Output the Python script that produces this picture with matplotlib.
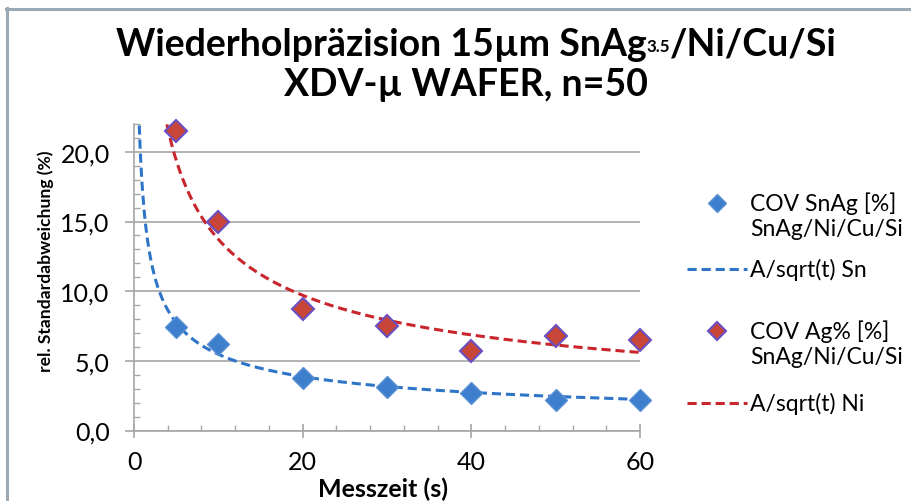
import numpy as np
import matplotlib
matplotlib.use("Agg")
import matplotlib.pyplot as plt
from matplotlib.lines import Line2D
from matplotlib.ticker import MultipleLocator, FuncFormatter

plt.rcParams['font.family'] = ['Lato', 'DejaVu Sans']

# ---- data ----
t_meas = [5, 10, 20, 30, 40, 50, 60]
cov_snag = [7.4, 6.2, 3.8, 3.1, 2.7, 2.2, 2.2]
cov_ag = [21.5, 15.0, 8.7, 7.5, 5.7, 6.8, 6.5]
A_sn = 17.3   # fit constant A/sqrt(t) Sn
A_ni = 43.4   # fit constant A/sqrt(t) Ni
xticks = [0, 20, 40, 60]
yticks = [0, 5, 10, 15, 20]

W, H = 911, 502
fig = plt.figure(figsize=(W / 100, H / 100), dpi=100)
fig.patch.set_facecolor('white')

def fx(px):
    return px / W

def fy(py):
    return 1 - py / H

ax = fig.add_axes([fx(134), fy(431.5), fx(640) - fx(134), fy(125) - fy(431.5)])
ax.set_xlim(0, 60)
ax.set_ylim(0, 22)

grid_c = '#A6A6A6'
for s in ['top', 'right']:
    ax.spines[s].set_visible(False)
for s in ['left', 'bottom']:
    ax.spines[s].set_color(grid_c)
    ax.spines[s].set_linewidth(1.2)

ax.yaxis.grid(True, color=grid_c, linewidth=1.2)
ax.set_axisbelow(True)

ax.set_xticks(xticks)
ax.set_yticks(yticks)
ax.xaxis.set_minor_locator(MultipleLocator(4))
ax.yaxis.set_minor_locator(MultipleLocator(1))
ax.yaxis.set_major_formatter(FuncFormatter(lambda v, p: f"{v:.1f}".replace('.', ',')))
ax.tick_params(axis='y', which='major', direction='out', length=6.5, width=1.2,
               color=grid_c, labelsize=18, labelcolor='black', pad=11)
ax.tick_params(axis='x', which='major', direction='inout', length=10, width=1.2,
               color=grid_c, labelsize=18, labelcolor='black', pad=9)
ax.tick_params(axis='both', which='minor', direction='in', length=4, width=1.0, color=grid_c)

# fit curves
tt = np.linspace(0.3, 60, 600)
ax.plot(tt, A_sn / np.sqrt(tt), linestyle=(0, (3, 1.6)), color='#2E75C8', linewidth=2.2, zorder=3)
ax.plot(tt, A_ni / np.sqrt(tt), linestyle=(0, (3, 1.6)), color='#C8252C', linewidth=2.2, zorder=3)

# data points
blue_fc = '#3D7FCC'
blue_ec = '#5B8FD6'
red_fc = '#C8453A'
red_ec = '#6A4FC0'
ax.plot(t_meas, cov_snag, linestyle='none', marker='D', markersize=11.5,
        markerfacecolor=blue_fc, markeredgecolor=blue_ec, markeredgewidth=1.0, zorder=4, clip_on=False)
ax.plot(t_meas, cov_ag, linestyle='none', marker='D', markersize=11.5,
        markerfacecolor=red_fc, markeredgecolor=red_ec, markeredgewidth=1.5, zorder=4, clip_on=False)

fig.text(fx(383), fy(489), 'Messzeit (s)', fontsize=18, fontweight='bold', ha='center', va='center')
ax.set_ylabel('rel. Standardabweichung (%)', fontsize=12.6, fontweight='bold')
ax.yaxis.set_label_coords(-0.158, 0.556)

# frame
frame_c = '#9AA9B3'
fig.add_artist(Line2D([fx(6.5), fx(6.5)], [fy(9), 0], transform=fig.transFigure, color=frame_c, linewidth=2.2))
fig.add_artist(Line2D([fx(5.5), 1], [fy(10), fy(10)], transform=fig.transFigure, color=frame_c, linewidth=2.2))

# title (with subscript)
renderer = fig.canvas.get_renderer()
tsize = 27
parts = [('Wiederholpräzision 15µm SnAg', tsize, 0), ('3.5', tsize * 0.45, 4), ('/Ni/Cu/Si', tsize, 0)]
objs = []
for s, sz, dy in parts:
    objs.append(fig.text(0, fy(42 + dy), s, fontsize=sz, fontweight='bold', va='center_baseline', ha='left'))
widths = [o.get_window_extent(renderer).width for o in objs]
total = sum(widths)
x0 = 476.5 - total / 2
for o, w in zip(objs, widths):
    o.set_x(fx(x0))
    x0 += w
fig.text(fx(466), fy(82), 'XDV-µ WAFER, n=50', fontsize=tsize, fontweight='bold', ha='center', va='center_baseline')

# legend (manual)
lsize = 16.5
tx = fx(750)
fig.add_artist(Line2D([fx(717)], [fy(204)], transform=fig.transFigure, marker='D', markersize=9,
                      markerfacecolor=blue_fc, markeredgecolor=blue_ec, linestyle='none'))
fig.text(tx, fy(204), 'COV SnAg [%]', fontsize=lsize, va='center')
fig.text(tx, fy(230), 'SnAg/Ni/Cu/Si', fontsize=lsize, va='center')
fig.add_artist(Line2D([fx(687), fx(747)], [fy(270), fy(270)], transform=fig.transFigure,
                      linestyle=(0, (3, 1.6)), color='#2E75C8', linewidth=2.2))
fig.text(tx, fy(270), 'A/sqrt(t) Sn', fontsize=lsize, va='center')
fig.add_artist(Line2D([fx(717)], [fy(332)], transform=fig.transFigure, marker='D', markersize=9,
                      markerfacecolor=red_fc, markeredgecolor=red_ec, markeredgewidth=1.5, linestyle='none'))
fig.text(tx, fy(332), 'COV Ag% [%]', fontsize=lsize, va='center')
fig.text(tx, fy(358), 'SnAg/Ni/Cu/Si', fontsize=lsize, va='center')
fig.add_artist(Line2D([fx(687), fx(747)], [fy(404), fy(404)], transform=fig.transFigure,
                      linestyle=(0, (3, 1.6)), color='#C8252C', linewidth=2.2))
fig.text(tx, fy(404), 'A/sqrt(t) Ni', fontsize=lsize, va='center')

fig.savefig('out.png', dpi=100)
